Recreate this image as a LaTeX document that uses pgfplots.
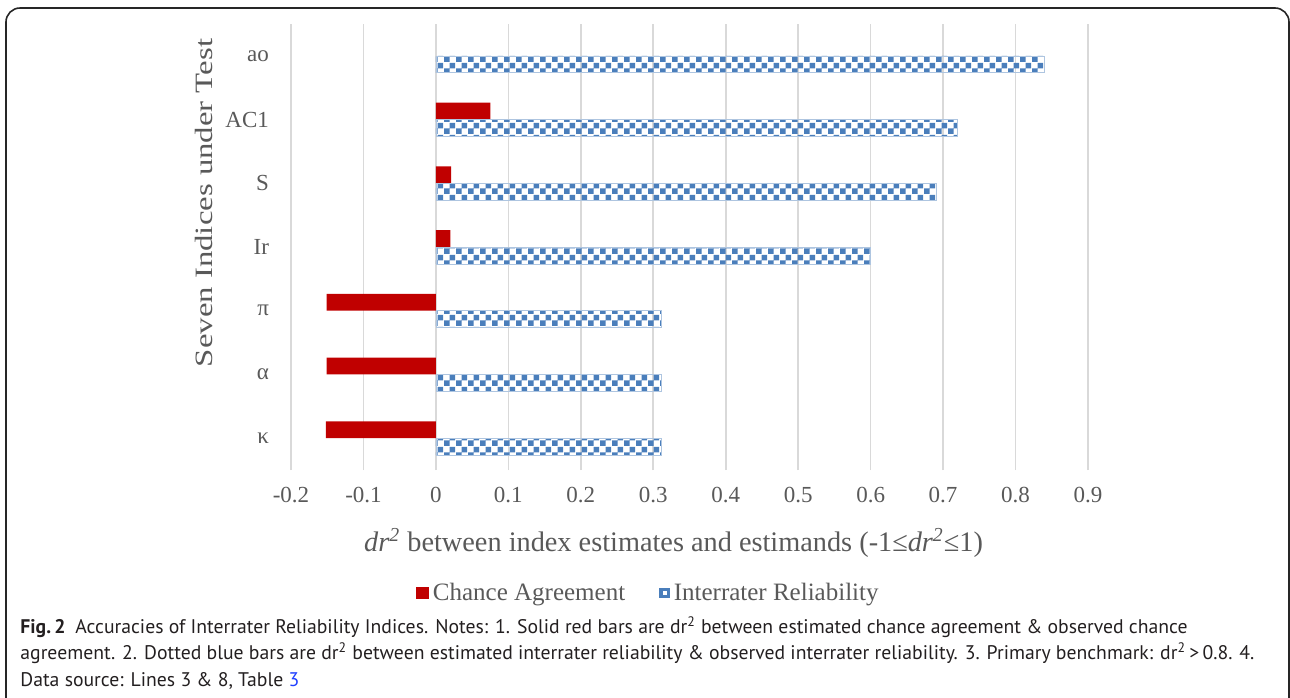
\documentclass[border=0pt]{standalone}
\usepackage{graphicx}
\usepackage{pgfplots}
\pgfplotsset{compat=1.18}
\usepackage{fontspec}
\setmainfont{Liberation Serif}
\newfontfamily\capfont{PT Sans}
\usetikzlibrary{patterns}
\definecolor{excelred}{HTML}{C00000}
\definecolor{excelblue}{HTML}{4A7EBB}
\definecolor{textgray}{HTML}{595959}
\definecolor{gridgray}{HTML}{D9D9D9}
\definecolor{capblack}{HTML}{231F20}
\definecolor{linkblue}{HTML}{1F3FFF}
\pgfdeclarepatternformonly{bigchecker}{\pgfqpoint{0pt}{0pt}}{\pgfqpoint{6pt}{6pt}}{\pgfqpoint{6pt}{6pt}}{%
  \pgfpathrectangle{\pgfqpoint{0pt}{0pt}}{\pgfqpoint{3pt}{3pt}}%
  \pgfpathrectangle{\pgfqpoint{3pt}{3pt}}{\pgfqpoint{3pt}{3pt}}%
  \pgfusepath{fill}}

\pgfplotstableread{
y   v
0  -0.152
1  -0.151
2  -0.151
3   0.020
4   0.021
5   0.075
}\chance
\pgfplotstableread{
y   v
0   0.311
1   0.311
2   0.311
3   0.600
4   0.690
5   0.720
6   0.840
}\irr

\begin{document}
\begin{tikzpicture}
\useasboundingbox (0pt,0pt) rectangle (645pt,-348.5pt);
\draw[line width=0.8pt, rounded corners=7pt, color=black!85] (3pt,-352pt) -- (3pt,-4pt) -- (644.5pt,-4pt) -- (644.5pt,-352pt);
\begin{axis}[
  at={(145.5pt,-235pt)}, anchor=south west,
  width=398.5pt, height=223pt, scale only axis,
  xmin=-0.2, xmax=0.9, ymin=-0.5, ymax=6.5,
  xtick={-0.2,-0.1,0,0.1,0.2,0.3,0.4,0.5,0.6,0.7,0.8,0.9},
  xticklabels={-0.2,-0.1,0,0.1,0.2,0.3,0.4,0.5,0.6,0.7,0.8,0.9},
  ytick={0,1,2,3,4,5,6},
  yticklabels={κ,α,π,Ir,S,AC1,ao},
  xmajorgrids, grid style={draw=gridgray, line width=0.8pt},
  axis line style={draw=none},
  major tick length=0pt,
  tick label style={font=\fontsize{11.5}{12}\selectfont, text=textgray},
  xticklabel style={yshift=-5pt},
  yticklabel style={xshift=-7.5pt},
  xbar, bar width=0.265,
  legend style={at={(0.4495,-0.276)}, anchor=center, draw=none, fill=none,
    legend columns=2, font=\fontsize{12.5}{13}\selectfont, text=textgray,
    /tikz/every even column/.append style={column sep=15pt},
    inner sep=0pt, cells={anchor=west},
    nodes={inner xsep=2pt}},
]
\addplot[fill=excelred, draw=none, bar shift=0.1325,
  legend image code/.code={\fill[excelred] (0pt,-3pt) rectangle (6.5pt,3pt);}]
  table[x=v, y=y] {\chance};
\addlegendentry{Chance Agreement}
\addplot[pattern=bigchecker, pattern color=excelblue, draw=excelblue!45, line width=0.3pt, bar shift=-0.1325,
  legend image code/.code={\fill[excelblue] (0pt,-2.3pt) rectangle (5pt,2.3pt);
     \fill[white] (1.8pt,-0.7pt) rectangle (3.4pt,0.8pt);}]
  table[x=v, y=y] {\irr};
\addlegendentry{Interrater Reliability}
\end{axis}
\node[rotate=90, text=textgray, font=\fontsize{16.4}{17}\selectfont] at (102pt,-101.5pt) {\scalebox{1}[0.76]{Seven Indices under Test}};
\node[text=textgray, font=\fontsize{14.15}{16}\selectfont] at (336.8pt,-271.5pt) {\textit{dr\textsuperscript{2}} between index estimates and estimands (-1≤\textit{dr\textsuperscript{2}}≤1)};
\node[anchor=north west, align=left, inner sep=0pt, text=capblack, font=\capfont\fontsize{9.85}{13.25}\selectfont] at (10pt,-308pt)
 {\textbf{Fig.\,2}\enspace Accuracies of Interrater Reliability Indices. Notes: 1. Solid red bars are dr\textsuperscript{2} between estimated chance agreement \& observed chance\\
 agreement. 2. Dotted blue bars are dr\textsuperscript{2} between estimated interrater reliability \& observed interrater reliability. 3. Primary benchmark: dr\textsuperscript{2}\,>\,0.8. 4.\\
 Data source: Lines 3 \& 8, Table \textcolor{linkblue}{3}};
\end{tikzpicture}
\end{document}
